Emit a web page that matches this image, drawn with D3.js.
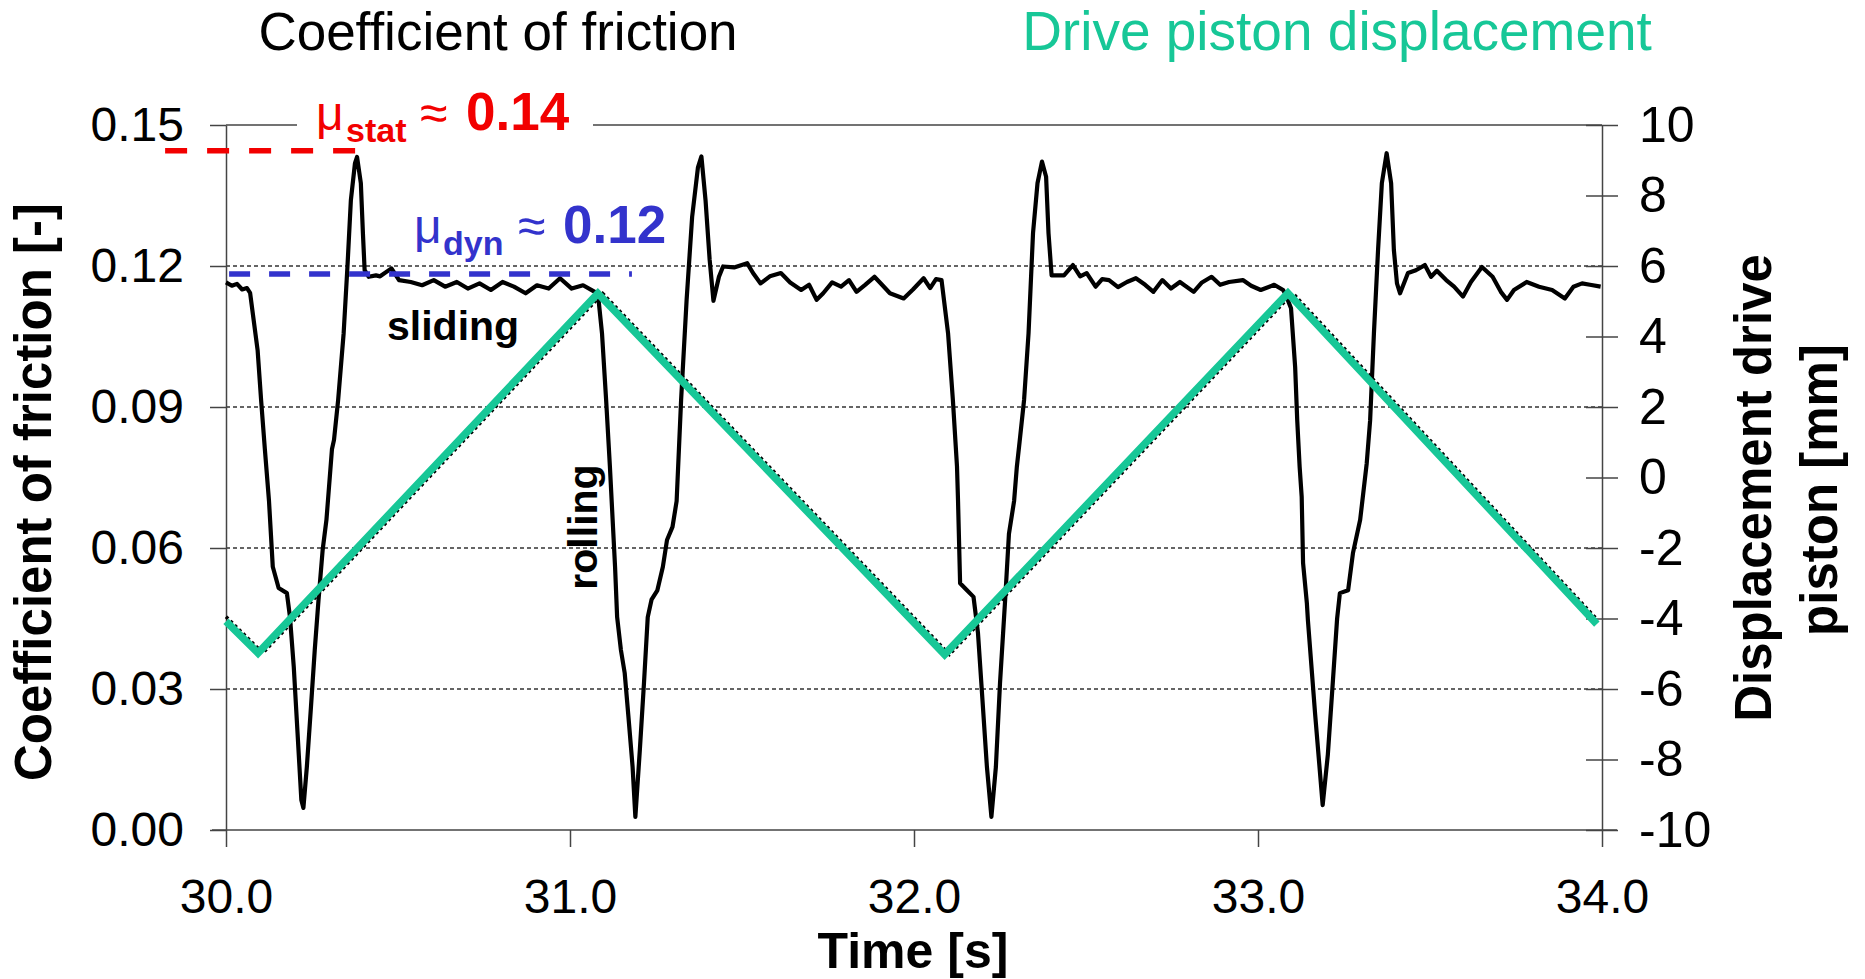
<!DOCTYPE html>
<html>
<head>
    <title>Coefficient of friction and drive piston displacement</title>
    <script src="https://d3js.org/d3.v7.min.js"></script>
    <style>
        body {
            margin: 0;
            background: #fff;
        }
        text {
            font-family: "Liberation Sans", Arial, sans-serif;
        }
        .axis text {
            font-size: 48px;
            fill: #000;
        }
        .axis.right text {
            font-size: 50px;
        }
        .axis line, .axis path {
            stroke: #444;
            stroke-width: 1.5;
        }
        .grid line {
            stroke: #333;
            stroke-width: 1.5;
            stroke-dasharray: 4, 3;
        }
        .title {
            font-size: 53px;
        }
        .axis-title {
            font-size: 51px;
            font-weight: bold;
        }
        .note {
            font-size: 41px;
            font-weight: bold;
        }
    </style>
</head>
<body>
    <div id="chart"></div>
    <script>
        // axis ticks
        var timeTicks = [30, 31, 32, 33, 34];
        var frictionTicks = [0, 0.03, 0.06, 0.09, 0.12, 0.15];
        var gridValues = [0.03, 0.06, 0.09, 0.12];
        var dispTicks = [-10, -8, -6, -4, -2, 0, 2, 4, 6, 8, 10];

        // coefficient of friction (left axis)
        var frictionTime = [
            30.000, 30.017, 30.032, 30.047, 30.061, 30.070, 30.092, 30.102, 30.113, 30.125,
            30.136, 30.153, 30.177, 30.186, 30.197, 30.208, 30.219, 30.225, 30.235, 30.247,
            30.258, 30.269, 30.281, 30.292, 30.308, 30.314, 30.326, 30.342, 30.353, 30.363,
            30.375, 30.381, 30.392, 30.398, 30.403, 30.415, 30.436, 30.448, 30.481, 30.503,
            30.537, 30.570, 30.604, 30.637, 30.671, 30.703, 30.737, 30.770, 30.804, 30.837,
            30.871, 30.904, 30.938, 30.971, 31.005, 31.038, 31.072, 31.083, 31.093, 31.105,
            31.116, 31.131, 31.137, 31.148, 31.159, 31.170, 31.182, 31.190, 31.203, 31.215,
            31.226, 31.237, 31.254, 31.270, 31.282, 31.298, 31.310, 31.323, 31.339, 31.355,
            31.372, 31.382, 31.394, 31.406, 31.417, 31.433, 31.445, 31.477, 31.515, 31.532,
            31.554, 31.581, 31.613, 31.640, 31.672, 31.695, 31.717, 31.736, 31.762, 31.788,
            31.811, 31.833, 31.858, 31.885, 31.907, 31.930, 31.970, 31.997, 32.028, 32.047,
            32.064, 32.080, 32.099, 32.113, 32.125, 32.128, 32.134, 32.154, 32.173, 32.186,
            32.199, 32.212, 32.225, 32.238, 32.250, 32.265, 32.276, 32.291, 32.299, 32.307,
            32.320, 32.333, 32.346, 32.359, 32.372, 32.384, 32.391, 32.400, 32.436, 32.462,
            32.483, 32.502, 32.528, 32.547, 32.567, 32.593, 32.619, 32.645, 32.672, 32.696,
            32.722, 32.747, 32.773, 32.813, 32.837, 32.865, 32.890, 32.916, 32.956, 32.980,
            33.008, 33.047, 33.073, 33.080, 33.096, 33.108, 33.114, 33.121, 33.127, 33.131,
            33.142, 33.145, 33.166, 33.188, 33.203, 33.218, 33.230, 33.238, 33.262, 33.276,
            33.297, 33.316, 33.326, 33.337, 33.349, 33.360, 33.374, 33.387, 33.395, 33.404,
            33.413, 33.436, 33.459, 33.485, 33.503, 33.520, 33.547, 33.570, 33.596, 33.619,
            33.651, 33.682, 33.706, 33.724, 33.744, 33.781, 33.817, 33.855, 33.892, 33.917,
            33.942, 33.965, 33.996
        ];
        var frictionValue = [
            0.1165, 0.1158, 0.1162, 0.1150, 0.1153, 0.1143, 0.1020, 0.0915, 0.0810, 0.0700,
            0.0560, 0.0515, 0.0504, 0.0453, 0.0347, 0.0206, 0.0064, 0.0047, 0.0134, 0.0262,
            0.0383, 0.0490, 0.0596, 0.0660, 0.0810, 0.0830, 0.0915, 0.1057, 0.1198, 0.1340,
            0.1419, 0.1432, 0.1376, 0.1270, 0.1191, 0.1177, 0.1180, 0.1178, 0.1195, 0.1170,
            0.1166, 0.1159, 0.1170, 0.1156, 0.1166, 0.1152, 0.1163, 0.1149, 0.1166, 0.1156,
            0.1142, 0.1159, 0.1152, 0.1174, 0.1152, 0.1159, 0.1145, 0.1128, 0.1057, 0.0915,
            0.0773, 0.0560, 0.0453, 0.0383, 0.0334, 0.0240, 0.0134, 0.0028, 0.0170, 0.0312,
            0.0453, 0.0490, 0.0510, 0.0560, 0.0617, 0.0645, 0.0700, 0.0915, 0.1128, 0.1304,
            0.1410, 0.1433, 0.1340, 0.1213, 0.1126, 0.1177, 0.1199, 0.1197, 0.1206, 0.1185,
            0.1163, 0.1178, 0.1185, 0.1165, 0.1149, 0.1160, 0.1128, 0.1142, 0.1165, 0.1156,
            0.1170, 0.1145, 0.1160, 0.1177, 0.1160, 0.1142, 0.1131, 0.1150, 0.1174, 0.1153,
            0.1172, 0.1170, 0.1057, 0.0915, 0.0773, 0.0700, 0.0525, 0.0510, 0.0496, 0.0419,
            0.0277, 0.0134, 0.0028, 0.0134, 0.0312, 0.0490, 0.0630, 0.0700, 0.0773, 0.0826,
            0.0915, 0.1057, 0.1270, 0.1376, 0.1422, 0.1390, 0.1270, 0.1180, 0.1180, 0.1202,
            0.1178, 0.1185, 0.1156, 0.1172, 0.1170, 0.1155, 0.1166, 0.1174, 0.1160, 0.1145,
            0.1170, 0.1152, 0.1166, 0.1145, 0.1165, 0.1177, 0.1160, 0.1166, 0.1170, 0.1158,
            0.1149, 0.1160, 0.1149, 0.1140, 0.1110, 0.0985, 0.0872, 0.0773, 0.0709, 0.0568,
            0.0483, 0.0447, 0.0247, 0.0053, 0.0160, 0.0320, 0.0450, 0.0504, 0.0510, 0.0589,
            0.0660, 0.0780, 0.0872, 0.1057, 0.1234, 0.1376, 0.1440, 0.1376, 0.1234, 0.1163,
            0.1142, 0.1185, 0.1191, 0.1202, 0.1177, 0.1190, 0.1170, 0.1156, 0.1135, 0.1166,
            0.1198, 0.1177, 0.1145, 0.1128, 0.1149, 0.1166, 0.1156, 0.1149, 0.1131, 0.1156,
            0.1163, 0.1160, 0.1156
        ];

        // drive piston displacement (right axis), set point and measured
        var pistonTime = [30.000, 30.093, 31.081, 32.089, 33.087, 33.985];
        var pistonDisp = [-4.08, -4.98, 5.22, -5.02, 5.23, -4.16];
        var measuredTime = [30.000, 30.107, 31.095, 32.103, 33.101, 33.985];
        var measuredDisp = [-3.95, -4.98, 5.22, -5.02, 5.23, -4.02];

        // reference levels: static and dynamic friction
        var muStat = 0.1445, muStatSpan = [29.823, 30.381];
        var muDyn = 0.1183, muDynSpan = [30.009, 31.180];

        var width = 1865,
            height = 979;
        var green = "#17c797";

        var svg = d3.select("#chart").append("svg")
            .attr("width", width)
            .attr("height", height);

        var x = d3.scaleLinear().domain([30, 34]).range([226, 1602]);
        var yL = d3.scaleLinear().domain([0, 0.15]).range([830, 125]);
        var yR = d3.scaleLinear().domain([-10, 10]).range([830, 125]);

        // dotted gridlines
        svg.append("g")
            .attr("class", "grid")
            .selectAll("line")
            .data(gridValues)
            .enter().append("line")
            .attr("x1", x(30))
            .attr("x2", x(34))
            .attr("y1", function(d) { return yL(d); })
            .attr("y2", function(d) { return yL(d); });

        // top frame line
        svg.append("line")
            .attr("x1", x(30))
            .attr("x2", x(34))
            .attr("y1", yL(0.15))
            .attr("y2", yL(0.15))
            .attr("stroke", "#444")
            .attr("stroke-width", 1.5);

        // left axis
        svg.append("g")
            .attr("class", "axis")
            .attr("transform", "translate(" + x(30) + ",0)")
            .call(d3.axisLeft(yL)
                .tickValues(frictionTicks)
                .tickFormat(d3.format(".2f"))
                .tickSize(16)
                .tickSizeOuter(0)
                .tickPadding(26));

        // right axis, ticks cross the line
        var rightAxis = svg.append("g")
            .attr("class", "axis right")
            .attr("transform", "translate(" + x(34) + ",0)")
            .call(d3.axisRight(yR)
                .tickValues(dispTicks)
                .tickFormat(function(d) { return String(d); })
                .tickSize(16)
                .tickSizeOuter(0)
                .tickPadding(21));
        rightAxis.selectAll(".tick line").attr("x1", -16).attr("x2", 16);

        // bottom axis
        var bottomAxis = svg.append("g")
            .attr("class", "axis")
            .attr("transform", "translate(0," + yL(0) + ")")
            .call(d3.axisBottom(x)
                .tickValues(timeTicks)
                .tickFormat(d3.format(".1f"))
                .tickSize(17)
                .tickSizeOuter(0)
                .tickPadding(32));
        bottomAxis.select(".domain").remove();
        bottomAxis.append("line")
            .attr("x1", x(30) - 14)
            .attr("x2", x(34) + 15)
            .attr("stroke", "#555")
            .attr("stroke-width", 3.5);

        // friction curve
        var frictionData = d3.zip(frictionTime, frictionValue);
        svg.append("path")
            .datum(frictionData)
            .attr("fill", "none")
            .attr("stroke", "#000")
            .attr("stroke-width", 4.2)
            .attr("stroke-linejoin", "round")
            .attr("d", d3.line()
                .x(function(d) { return x(d[0]); })
                .y(function(d) { return yL(d[1]); }));

        // measured displacement (black dashed, mostly hidden)
        svg.append("path")
            .datum(d3.zip(measuredTime, measuredDisp))
            .attr("fill", "none")
            .attr("stroke", "#000")
            .attr("stroke-width", 3.5)
            .attr("stroke-dasharray", "3,3")
            .attr("d", d3.line()
                .x(function(d) { return x(d[0]); })
                .y(function(d) { return yR(d[1]); }));

        // set point displacement
        svg.append("path")
            .datum(d3.zip(pistonTime, pistonDisp))
            .attr("fill", "none")
            .attr("stroke", green)
            .attr("stroke-width", 7.5)
            .attr("stroke-linejoin", "miter")
            .attr("d", d3.line()
                .x(function(d) { return x(d[0]); })
                .y(function(d) { return yR(d[1]); }));

        // white box behind the static label cuts the frame line
        svg.append("rect")
            .attr("x", 297)
            .attr("y", 92)
            .attr("width", 296)
            .attr("height", 54)
            .attr("fill", "#fff");

        // static / dynamic friction levels
        svg.append("line")
            .attr("x1", x(muStatSpan[0]))
            .attr("x2", x(muStatSpan[1]))
            .attr("y1", yL(muStat))
            .attr("y2", yL(muStat))
            .attr("stroke", "#f20000")
            .attr("stroke-width", 5.5)
            .attr("stroke-dasharray", "22,20");

        svg.append("line")
            .attr("x1", x(muDynSpan[0]))
            .attr("x2", x(muDynSpan[1]))
            .attr("y1", yL(muDyn))
            .attr("y2", yL(muDyn))
            .attr("stroke", "#3333cc")
            .attr("stroke-width", 5.5)
            .attr("stroke-dasharray", "21,19");

        // mu label: symbol, bold subscript, approx sign, bold value
        function muLabel(xs, py, sub, value, color) {
            var t = svg.append("text")
                .attr("y", py)
                .attr("fill", color);
            t.append("tspan").attr("x", xs[0]).style("font-size", "48px").text("\u03bc");
            t.append("tspan").attr("x", xs[1]).attr("y", py + 12)
                .style("font-size", "34px").style("font-weight", "bold").text(sub);
            t.append("tspan").attr("x", xs[2]).attr("y", py)
                .style("font-size", "50px").text("\u2248");
            t.append("tspan").attr("x", xs[3]).attr("y", py)
                .style("font-size", "53px").style("font-weight", "bold").text(value);
        }
        muLabel([316, 346, 420, 466], 130, "stat", "0.14", "#f20000");
        muLabel([414, 443, 518, 563], 243, "dyn", "0.12", "#3333cc");

        // motion notes
        svg.append("text")
            .attr("class", "note")
            .attr("x", 387)
            .attr("y", 340)
            .text("sliding");
        svg.append("text")
            .attr("class", "note")
            .attr("text-anchor", "middle")
            .attr("transform", "translate(597,527) rotate(-90)")
            .text("rolling");

        // titles
        svg.append("text")
            .attr("class", "title")
            .attr("x", 498)
            .attr("y", 50)
            .attr("text-anchor", "middle")
            .text("Coefficient of friction");
        svg.append("text")
            .attr("class", "title")
            .attr("x", 1337)
            .attr("y", 50)
            .attr("text-anchor", "middle")
            .attr("fill", green)
            .style("font-size", "55px")
            .text("Drive piston displacement");

        svg.append("text")
            .attr("class", "axis-title")
            .attr("text-anchor", "middle")
            .attr("transform", "translate(51,492) rotate(-90)")
            .text("Coefficient of friction [-]");
        svg.append("text")
            .attr("class", "axis-title")
            .attr("text-anchor", "middle")
            .attr("transform", "translate(1771,488) rotate(-90)")
            .text("Displacement drive");
        svg.append("text")
            .attr("class", "axis-title")
            .attr("text-anchor", "middle")
            .attr("transform", "translate(1837,490) rotate(-90)")
            .text("piston [mm]");
        svg.append("text")
            .attr("class", "axis-title")
            .attr("x", 913)
            .attr("y", 968)
            .attr("text-anchor", "middle")
            .style("font-size", "50px")
            .text("Time [s]");
    </script>
</body>
</html>
